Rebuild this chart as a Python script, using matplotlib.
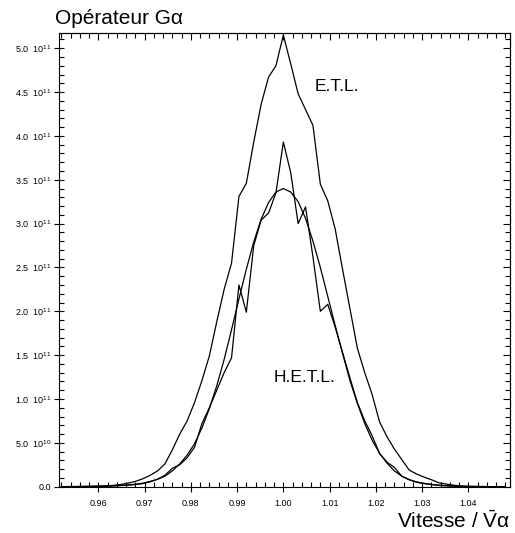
import numpy as np
import matplotlib
matplotlib.use("Agg")
import matplotlib.pyplot as plt
from matplotlib.ticker import FixedLocator, MultipleLocator, NullFormatter

plt.rcParams["font.family"] = ["Liberation Sans", "DejaVu Sans"]
plt.rcParams["mathtext.fontset"] = "custom"
plt.rcParams["mathtext.rm"] = "Liberation Sans"
plt.rcParams["mathtext.it"] = "Liberation Sans:italic"
plt.rcParams["mathtext.bf"] = "Liberation Sans:bold"

# velocity grid (61 points, step 0.0016)
vitesse = np.linspace(0.952, 1.048, 61)

# values in units of 1e11
etl = [0.001, 0.001, 0.002, 0.003, 0.004, 0.006, 0.010, 0.015, 0.025, 0.040,
       0.060, 0.090, 0.130, 0.180, 0.260, 0.420, 0.600, 0.750, 0.960, 1.210,
       1.490, 1.880, 2.250, 2.550, 3.310, 3.460, 3.930, 4.360, 4.670, 4.800,
       5.150,
       4.820, 4.480, 4.300, 4.120, 3.450, 3.260, 2.940, 2.480, 2.030, 1.580,
       1.300, 1.050, 0.740, 0.570, 0.430, 0.310, 0.190, 0.145, 0.110, 0.080,
       0.045, 0.030, 0.017, 0.008, 0.004, 0.003, 0.002, 0.001, 0.001, 0.000]

hetl = [0.001, 0.001, 0.001, 0.002, 0.003, 0.004, 0.006, 0.009, 0.013, 0.018,
        0.025, 0.035, 0.055, 0.085, 0.130, 0.210, 0.250, 0.330, 0.450, 0.720,
        0.900, 1.100, 1.300, 1.470, 2.300, 1.990, 2.750, 3.040, 3.120, 3.350,
        3.930,
        3.580, 3.000, 3.190, 2.620, 2.000, 2.080, 1.820, 1.530, 1.240, 0.960,
        0.750, 0.580, 0.380, 0.280, 0.220, 0.120, 0.080, 0.050, 0.035, 0.025,
        0.015, 0.010, 0.006, 0.003, 0.001, 0.000, 0.000, 0.000, 0.000, 0.000]

hetl_fit = [0.001, 0.001, 0.0015, 0.002, 0.003, 0.005, 0.007, 0.010, 0.014, 0.020,
            0.028, 0.040, 0.060, 0.085, 0.120, 0.180, 0.260, 0.360, 0.490, 0.670,
            0.890, 1.150, 1.450, 1.790, 2.140, 2.480, 2.790, 3.050, 3.240, 3.360,
            3.400,
            3.360, 3.250, 3.060, 2.800, 2.500, 2.170, 1.840, 1.520, 1.210, 0.950,
            0.720, 0.530, 0.380, 0.270, 0.180, 0.120, 0.080, 0.055, 0.038, 0.026,
            0.018, 0.012, 0.008, 0.005, 0.003, 0.002, 0.001, 0.001, 0.000, 0.000]

x_ticks = [0.96, 0.97, 0.98, 0.99, 1.00, 1.01, 1.02, 1.03, 1.04]
x_labels = ["0.96", "0.97", "0.98", "0.99", "1.00", "1.01", "1.02", "1.03", "1.04"]
y_ticks = [0.0, 0.5e11, 1.0e11, 1.5e11, 2.0e11, 2.5e11, 3.0e11, 3.5e11, 4.0e11, 4.5e11, 5.0e11]
y_labels = ["0.0", "5.0  10$^{10}$", "1.0  10$^{11}$", "1.5  10$^{11}$", "2.0  10$^{11}$",
            "2.5  10$^{11}$", "3.0  10$^{11}$", "3.5  10$^{11}$", "4.0  10$^{11}$",
            "4.5  10$^{11}$", "5.0  10$^{11}$"]

SCALE = 1e11

W, H = 515, 533
fig = plt.figure(figsize=(W / 100, H / 100), dpi=100)
ax = fig.add_axes([59 / W, 46.3 / H, 451 / W, 453.4 / H])

for ys in (etl, hetl, hetl_fit):
    ax.plot(vitesse, np.array(ys) * SCALE, color="black", lw=0.9)

ax.set_xlim(0.9515, 1.049)
ax.set_ylim(0, 5.17e11)

ax.xaxis.set_major_locator(FixedLocator(x_ticks))
ax.set_xticklabels(x_labels)
ax.xaxis.set_minor_locator(MultipleLocator(0.002))
ax.yaxis.set_major_locator(FixedLocator(y_ticks))
ax.set_yticklabels(y_labels)
ax.yaxis.set_minor_locator(MultipleLocator(1e10))

ax.tick_params(which="major", direction="inout", length=7, width=0.8, labelsize=6.5)
ax.tick_params(axis="x", which="major", pad=5)
ax.tick_params(axis="y", which="major", pad=2)
ax.tick_params(which="minor", direction="in", length=3.5, width=0.8)
for s in ax.spines.values():
    s.set_linewidth(0.8)

# inward ticks on top and right
secx = ax.secondary_xaxis("top")
secx.xaxis.set_major_locator(FixedLocator(x_ticks))
secx.xaxis.set_minor_locator(MultipleLocator(0.002))
secx.xaxis.set_major_formatter(NullFormatter())
secx.tick_params(which="major", direction="in", length=5, width=0.8)
secx.tick_params(which="minor", direction="in", length=3.5, width=0.8)
secx.spines["top"].set_linewidth(0.8)

secy = ax.secondary_yaxis("right")
secy.yaxis.set_major_locator(FixedLocator(y_ticks))
secy.yaxis.set_minor_locator(MultipleLocator(1e10))
secy.yaxis.set_major_formatter(NullFormatter())
secy.tick_params(which="major", direction="in", length=5, width=0.8)
secy.tick_params(which="minor", direction="in", length=3.5, width=0.8)
secy.spines["right"].set_linewidth(0.8)

ax.text(1.00685, 4.515e11, "E.T.L.", fontsize=12.5, va="baseline")
ax.text(0.99784, 1.197e11, "H.E.T.L.", fontsize=12.5, va="baseline")

fig.text(55 / W, 1 - 24 / H, "Opérateur Gα", fontsize=15, va="baseline")
fig.text(510 / W, 1 - 528 / H, r"Vitesse / $\bar{\mathrm{V}}$α", fontsize=15,
         ha="right", va="baseline")

fig.savefig("out.png", dpi=100)
